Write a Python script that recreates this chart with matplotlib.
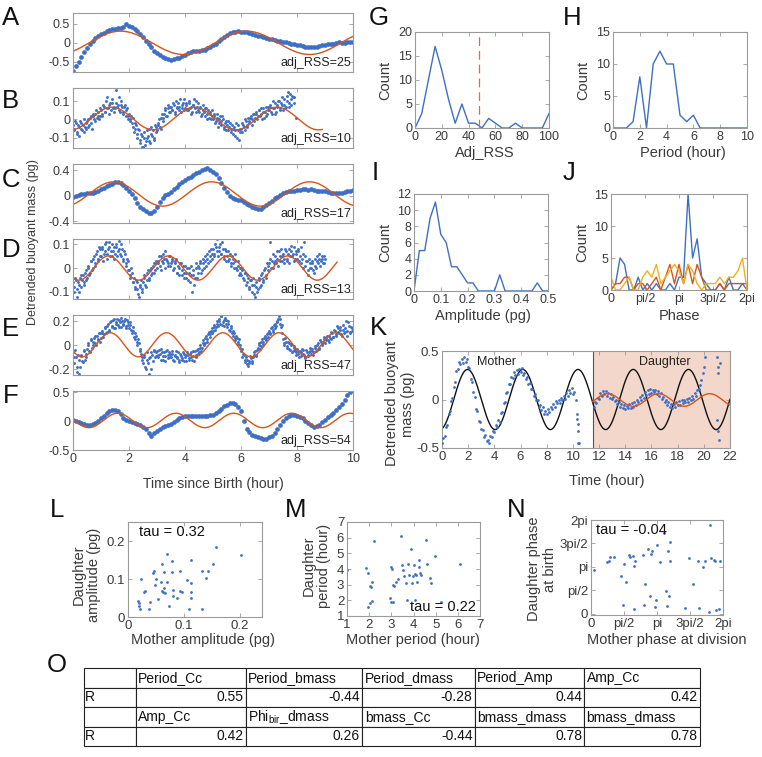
import numpy as np
import matplotlib
matplotlib.use('Agg')
import matplotlib.pyplot as plt
from matplotlib.table import Table

# ---------------- data ----------------
# panels A-F: detrended buoyant mass (pg)
A_dt = 0.1
A_y = [-0.75, -0.62, -0.5, -0.37, -0.24, -0.13, -0.03, 0.06, 0.13, 0.19,
       0.24, 0.27, 0.31, 0.34, 0.36, 0.38, 0.39, 0.4, 0.43, 0.5,
       0.46, 0.42, 0.37, 0.31, 0.24, 0.15, 0.06, -0.03, -0.12, -0.21,
       -0.28, -0.33, -0.37, -0.4, -0.43, -0.45, -0.42, -0.41, -0.39, -0.36,
       -0.32, -0.28, -0.25, -0.23, -0.22, -0.21, -0.2, -0.18, -0.15, -0.11,
       -0.07, -0.02, 0.04, 0.1, 0.16, 0.21, 0.25, 0.28, 0.3, 0.31,
       0.3, 0.29, 0.28, 0.26, 0.24, 0.21, 0.19, 0.17, 0.15, 0.13,
       0.11, 0.09, 0.08, 0.06, 0.04, 0.03, 0.02, -0.01, -0.03, -0.04,
       -0.05, -0.07, -0.09, -0.1, -0.1, -0.11, -0.12, -0.11, -0.09, -0.07,
       -0.05, -0.04, -0.03, -0.02, 0.0, 0.01, 0.0, -0.01, 0.01, 0.02, 0.02]

# noisy traces: two interleaved reads (second one offset by half a step)
B_dt = 0.05
B_y = [-0.03, -0.06, -0.02, -0.08, -0.04, -0.01, -0.05, -0.03, -0.07, -0.02,
       -0.01, -0.04, 0.01, -0.02, 0.02, 0.0, 0.03, 0.01, 0.04, 0.02,
       0.05, 0.03, 0.07, 0.04, 0.12, 0.06, 0.08, 0.05, 0.09, 0.07,
       0.06, 0.16, 0.08, 0.05, 0.1, 0.07, 0.04, 0.08, 0.05, 0.02,
       0.03, 0.0, -0.02, 0.01, -0.05, -0.03, -0.08, -0.06, -0.11, -0.09,
       -0.15, -0.07, -0.12, -0.1, -0.05, -0.13, -0.08, -0.06, -0.1, -0.04,
       -0.06, -0.02, -0.04, 0.01, -0.01, 0.03, 0.05, 0.02, 0.06, 0.04,
       0.07, 0.05, 0.08, 0.03, 0.06, 0.09, 0.07, 0.04, 0.08, 0.11,
       0.06, 0.08, 0.05, 0.09, 0.07, 0.04, 0.08, 0.06, 0.1, 0.05,
       0.04, 0.07, 0.03, 0.05, 0.02, 0.06, 0.03, 0.01, 0.04, 0.02,
       0.0, 0.03, -0.01, 0.01, -0.02, 0.02, -0.03, 0.0, -0.04, -0.01,
       -0.03, -0.06, -0.02, -0.05, -0.08, -0.04, -0.06, -0.1, -0.03, -0.07,
       -0.05, -0.02, -0.04, 0.0, -0.03, 0.01, -0.01, 0.02, 0.0, 0.03,
       0.01, 0.04, 0.02, 0.05, 0.03, 0.0, 0.06, 0.04, 0.02, 0.07,
       0.05, 0.08, 0.03, 0.06, 0.09, 0.04, 0.07, 0.1, 0.06, 0.08,
       0.05, 0.11, 0.07, 0.13, 0.09, 0.14, 0.08, 0.12, 0.12, 0.01]
B_y2 = [-0.05, -0.01, -0.07, -0.03, -0.09, -0.02, -0.06, 0.0, -0.04, -0.05,
        0.0, -0.03, 0.02, -0.05, 0.03, -0.01, 0.05, 0.02, 0.0, 0.06,
        0.02, 0.08, 0.04, 0.1, 0.06, 0.03, 0.09, 0.11, 0.06, 0.04,
        0.09, 0.07, 0.12, 0.04, 0.08, 0.03, 0.07, 0.02, 0.06, 0.0,
        -0.01, 0.02, -0.04, -0.07, -0.02, -0.1, -0.05, -0.13, -0.08, -0.15,
        -0.1, -0.14, -0.06, -0.09, -0.12, -0.04, -0.09, -0.11, -0.03, -0.07,
        -0.03, 0.0, -0.05, 0.03, 0.01, 0.06, 0.02, 0.08, 0.04, 0.07,
        0.05, 0.09, 0.04, 0.1, 0.07, 0.05, 0.11, 0.06, 0.09, 0.05,
        0.09, 0.05, 0.1, 0.06, 0.03, 0.08, 0.11, 0.04, 0.07, 0.09,
        0.06, 0.02, 0.08, 0.04, 0.06, 0.0, 0.05, 0.03, 0.0, 0.05,
        0.02, -0.02, 0.03, -0.04, 0.0, -0.01, 0.02, -0.05, -0.02, -0.06,
        -0.01, -0.04, -0.07, -0.03, -0.05, -0.09, -0.02, -0.06, -0.11, -0.05,
        -0.07, -0.03, -0.06, -0.01, -0.04, -0.02, 0.01, -0.03, 0.03, -0.01,
        0.03, 0.0, 0.05, 0.02, 0.06, 0.04, 0.01, 0.07, 0.03, 0.05,
        0.07, 0.04, 0.1, 0.06, 0.03, 0.08, 0.1, 0.05, 0.09, 0.12,
        0.08, 0.06, 0.1, 0.15, 0.07, 0.11, 0.13, 0.09]

C_dt = 0.1
C_y = [-0.01, 0.0, 0.02, 0.03, 0.03, 0.04, 0.05, 0.05, 0.06, 0.08,
       0.1, 0.12, 0.15, 0.17, 0.19, 0.21, 0.22, 0.2, 0.17, 0.13,
       0.08, 0.03, -0.04, -0.11, -0.17, -0.21, -0.24, -0.26, -0.27, -0.24,
       -0.18, -0.1, -0.03, 0.01, 0.03, 0.06, 0.1, 0.14, 0.18, 0.22,
       0.25, 0.28, 0.3, 0.33, 0.36, 0.38, 0.4, 0.42, 0.43, 0.41,
       0.38, 0.34, 0.28, 0.2, 0.13, 0.06, 0.0, -0.03, -0.05, -0.06,
       -0.07, -0.1, -0.13, -0.15, -0.17, -0.19, -0.21, -0.2, -0.17, -0.14,
       -0.11, -0.08, -0.04, -0.01, 0.02, 0.04, 0.06, 0.07, 0.08, 0.08,
       0.09, 0.09, 0.1, 0.1, 0.09, 0.1, 0.09, 0.08, 0.08, 0.07,
       0.07, 0.06, 0.05, 0.05, 0.04, 0.04, 0.05, 0.06, 0.07, 0.08, 0.09]

D_dt = 0.05
D_y = [-0.06, -0.1, -0.05, -0.12, -0.07, -0.04, -0.08, -0.03, -0.06, -0.01,
       -0.04, 0.01, -0.02, 0.03, 0.0, 0.05, 0.02, 0.07, 0.04, 0.08,
       0.05, 0.09, 0.06, 0.1, 0.04, 0.08, 0.11, 0.07, 0.05, 0.09,
       0.06, 0.1, 0.07, 0.115, 0.05, 0.08, 0.04, 0.06, 0.02, 0.03,
       -0.01, -0.04, -0.02, -0.06, -0.08, -0.05, -0.09, -0.12, -0.07, -0.1,
       -0.06, -0.04, -0.08, -0.02, -0.05, -0.01, -0.03, 0.01, -0.02, 0.02,
       0.0, 0.03, 0.01, 0.05, 0.02, 0.04, 0.07, 0.03, 0.01, 0.05,
       0.02, 0.04, 0.0, 0.03, -0.02, 0.01, -0.03, 0.02, -0.01, -0.04,
       0.01, -0.02, -0.05, 0.0, -0.03, -0.1, -0.01, -0.04, 0.02, -0.02,
       0.0, 0.03, -0.01, 0.02, 0.05, 0.01, 0.04, 0.07, 0.03, 0.06,
       0.08, 0.05, 0.09, 0.12, 0.07, 0.1, 0.06, 0.08, 0.04, 0.07,
       0.05, 0.03, 0.06, 0.02, 0.04, 0.0, 0.03, -0.01, 0.01, -0.02,
       -0.03, 0.0, -0.05, -0.02, -0.06, -0.04, -0.08, -0.05, -0.1, -0.07,
       -0.12, -0.06, -0.09, -0.04, -0.07, -0.02, -0.05, 0.0, -0.03, 0.01,
       0.02, 0.108, 0.03, 0.0, 0.05, 0.02, 0.04, 0.07, 0.03, 0.05,
       0.06, 0.02, 0.07, 0.04, 0.08, 0.05, 0.094, 0.06, 0.03, 0.07,
       0.04, 0.08, 0.05, 0.02, 0.06, 0.11, 0.01, 0.03, -0.01, 0.02,
       0.0, 0.03, -0.02, 0.01, 0.05, 0.02, 0.04, 0.03, 0.05, 0.02, 0.04]
D_y2 = [-0.08, -0.04, -0.09, -0.06, -0.1, -0.03, -0.05, -0.07, -0.02, -0.05,
        0.0, -0.03, 0.03, -0.01, 0.04, 0.01, 0.06, 0.03, 0.09, 0.05,
        0.08, 0.03, 0.07, 0.11, 0.06, 0.09, 0.05, 0.1, 0.07, 0.04,
        0.09, 0.05, 0.08, 0.06, 0.1, 0.03, 0.07, 0.01, 0.04, -0.01,
        -0.03, 0.0, -0.06, -0.04, -0.09, -0.06, -0.11, -0.08, -0.05, -0.09,
        -0.03, -0.07, -0.05, -0.01, -0.04, 0.0, -0.02, 0.02, -0.01, 0.03,
        0.02, 0.05, -0.01, 0.03, 0.06, 0.0, 0.04, 0.02, 0.05, 0.01,
        0.03, -0.01, 0.02, 0.04, -0.02, 0.0, 0.02, -0.03, 0.01, -0.02,
        -0.04, 0.0, -0.02, -0.06, 0.01, -0.03, -0.07, 0.0, -0.04, 0.01,
        0.02, -0.02, 0.04, 0.0, 0.03, 0.06, 0.02, 0.05, 0.08, 0.04,
        0.06, 0.1, 0.07, 0.05, 0.09, 0.06, 0.11, 0.05, 0.08, 0.03,
        0.07, 0.04, 0.01, 0.05, 0.02, 0.06, 0.0, 0.03, -0.03, 0.0,
        -0.01, -0.04, -0.02, -0.07, -0.03, -0.09, -0.05, -0.07, -0.04, -0.11,
        -0.08, -0.1, -0.05, -0.08, -0.03, -0.06, -0.01, -0.04, 0.02, -0.01,
        0.04, 0.0, 0.06, 0.02, 0.03, 0.07, 0.01, 0.05, 0.08, 0.03,
        0.04, 0.08, 0.03, 0.06, 0.02, 0.07, 0.05, 0.09, 0.04, 0.06,
        0.07, 0.03, 0.09, 0.04, 0.0, 0.05, 0.03, -0.03, 0.04, 0.0,
        0.02, -0.01, 0.04, 0.0, 0.03, 0.06, 0.01, 0.04, 0.02, 0.05]

E_dt = 0.05
E_y = [-0.06, -0.15, -0.1, -0.22, -0.12, -0.18, -0.08, -0.14, -0.05, -0.1,
       -0.03, 0.02, -0.06, 0.04, 0.0, 0.06, 0.02, 0.08, 0.04, 0.1,
       0.06, 0.12, 0.09, 0.15, 0.11, 0.18, 0.13, 0.2, 0.16, 0.22,
       0.14, 0.19, 0.17, 0.21, 0.15, 0.2, 0.18, 0.22, 0.16, 0.19,
       0.14, 0.17, 0.1, 0.12, 0.05, 0.08, 0.0, 0.02, -0.05, -0.1,
       -0.15, -0.08, -0.2, -0.12, -0.24, -0.1, -0.06, -0.13, -0.04, -0.09,
       -0.05, -0.1, -0.07, -0.03, -0.12, -0.06, -0.09, -0.04, -0.11, -0.07,
       -0.1, -0.05, -0.13, -0.08, -0.11, -0.06, -0.14, -0.09, -0.12, -0.07,
       -0.1, -0.13, -0.08, -0.11, -0.06, -0.12, -0.09, -0.05, -0.1, -0.03,
       -0.06, 0.0, -0.02, 0.04, 0.02, 0.08, 0.05, 0.11, 0.09, 0.14,
       0.12, 0.17, 0.15, 0.2, 0.22, 0.18, 0.24, 0.19, 0.16, 0.21,
       0.15, 0.18, 0.12, 0.14, 0.08, 0.1, 0.04, 0.06, 0.01, -0.02,
       -0.05, -0.1, -0.08, -0.14, -0.12, -0.17, -0.15, -0.11, -0.13, -0.08,
       -0.05, -0.09, -0.02, 0.02, -0.01, 0.05, 0.03, 0.08, 0.06, 0.1,
       0.12, 0.09, 0.15, 0.13, 0.18, 0.16, 0.2, 0.24, 0.22, 0.17,
       0.05, 0.0, 0.03, -0.02, 0.02, -0.04, 0.01, -0.05, -0.02, -0.06,
       -0.03, -0.07, -0.05, -0.09, -0.04, -0.08, -0.1, -0.06, -0.09, -0.05,
       -0.07, -0.03, -0.06, -0.01, -0.04, 0.02, -0.02, 0.03, 0.0, 0.05,
       0.02, 0.06, 0.04, 0.08, 0.05, 0.1, 0.07, 0.12, 0.09, 0.14,
       0.1, 0.15, 0.08, 0.13, 0.11, 0.2, 0.12, 0.16, 0.1, 0.14, 0.12]
E_y2 = [-0.1, -0.04, -0.18, -0.08, -0.24, -0.09, -0.13, -0.04, -0.12, -0.07,
        0.0, -0.05, 0.05, -0.02, 0.03, 0.08, 0.0, 0.05, 0.1, 0.03,
        0.1, 0.07, 0.14, 0.1, 0.16, 0.12, 0.19, 0.15, 0.21, 0.14,
        0.18, 0.22, 0.15, 0.19, 0.23, 0.17, 0.2, 0.14, 0.21, 0.17,
        0.19, 0.13, 0.15, 0.07, 0.1, 0.03, 0.05, -0.03, -0.07, -0.12,
        -0.1, -0.18, -0.06, -0.15, -0.11, -0.2, -0.08, -0.05, -0.1, -0.06,
        -0.08, -0.04, -0.12, -0.06, -0.09, -0.13, -0.05, -0.08, -0.06, -0.1,
        -0.07, -0.12, -0.09, -0.05, -0.1, -0.12, -0.07, -0.11, -0.06, -0.13,
        -0.08, -0.06, -0.12, -0.07, -0.1, -0.05, -0.13, -0.08, -0.04, -0.07,
        -0.02, -0.05, 0.02, 0.0, 0.06, 0.03, 0.09, 0.07, 0.12, 0.1,
        0.15, 0.13, 0.18, 0.16, 0.2, 0.24, 0.17, 0.21, 0.23, 0.18,
        0.2, 0.13, 0.16, 0.1, 0.12, 0.06, 0.08, 0.03, 0.05, 0.0,
        -0.03, -0.07, -0.12, -0.1, -0.16, -0.13, -0.09, -0.15, -0.1, -0.06,
        -0.08, -0.04, 0.0, -0.03, 0.03, 0.01, 0.06, 0.04, 0.09, 0.07,
        0.1, 0.14, 0.11, 0.17, 0.14, 0.19, 0.22, 0.18, 0.15, 0.1,
        0.02, 0.06, -0.01, 0.03, -0.03, 0.0, -0.06, -0.01, -0.04, -0.08,
        -0.05, -0.1, -0.06, -0.03, -0.07, -0.11, -0.04, -0.08, -0.06, -0.02,
        -0.05, -0.08, -0.02, -0.05, 0.0, -0.03, 0.04, 0.01, 0.03, 0.07,
        0.04, 0.08, 0.03, 0.06, 0.11, 0.07, 0.13, 0.08, 0.16, 0.11,
        0.13, 0.09, 0.17, 0.1, 0.14, 0.08, 0.19, 0.11, 0.15, 0.12]

F_dt = 0.1
F_y = [0.03, 0.01, -0.01, -0.03, -0.05, -0.06, -0.07, -0.05, -0.03, 0.01,
       0.06, 0.1, 0.14, 0.17, 0.19, 0.2, 0.18, 0.12, 0.06, 0.02,
       0.0, -0.02, -0.03, -0.04, -0.06, -0.1, -0.14, -0.2, -0.26, -0.2,
       -0.16, -0.13, -0.1, -0.08, -0.07, -0.04, -0.01, 0.03, 0.06, 0.08,
       0.09, 0.1, 0.1, 0.1, 0.1, 0.1, 0.1, 0.1, 0.1, 0.11,
       0.11, 0.14, 0.17, 0.22, 0.26, 0.29, 0.31, 0.31, 0.3, 0.25,
       0.17, 0.0, -0.14, -0.19, -0.23, -0.25, -0.27, -0.29, -0.3, -0.3,
       -0.28, -0.25, -0.2, -0.13, -0.06, 0.0, 0.06, 0.09, 0.11, 0.11,
       0.1, 0.08, 0.05, 0.01, -0.03, -0.07, -0.09, -0.08, -0.06, -0.02,
       0.03, 0.07, 0.11, 0.15, 0.2, 0.24, 0.3, 0.37, 0.45, 0.5, 0.55]

# sine fits: (amplitude, period h, time of peak h, offset, end time h)
A_fit = (0.31, 4.5, 1.7, 0.0, 10.0)
B_fit = (0.062, 2.95, 1.39, 0.005, 8.9)
C_fit = (0.19, 3.5, 1.45, 0.03, 10.0)
D_fit = (0.051, 2.13, 1.27, 0.0, 9.43)
E_fit = (0.1, 2.01, 1.33, 0.003, 10.0)
F_fit = (0.125, 2.07, 1.6, 0.015, 10.0)
adj_rss = [25, 10, 17, 13, 47, 54]
ylims = [(-0.78, 0.8), (-0.155, 0.17), (-0.43, 0.5), (-0.13, 0.12), (-0.245, 0.25), (-0.5, 0.53)]
yticks = [[-0.5, 0, 0.5], [-0.1, 0, 0.1], [-0.4, 0, 0.4], [-0.1, 0, 0.1], [-0.2, 0, 0.2], [-0.5, 0, 0.5]]

# histograms G-J
G_x = np.linspace(0, 100, 21)
G_count = [0, 3, 10, 17, 12, 6, 1, 5, 1, 1, 0, 2, 1, 0, 0, 1, 0, 0, 0, 0, 3]
G_cut = 48
H_x = np.linspace(0, 10, 21)
H_count = [0, 0, 0, 1, 8, 0, 10, 12, 10, 10, 2, 1, 2, 0, 0, 0, 0, 0, 0, 0, 0]
I_x = np.linspace(0, 0.5, 26)
I_count = [0, 5, 5, 9, 11, 7, 6, 3, 3, 2, 1, 1, 0, 0, 0, 0, 2, 0, 0, 0, 0, 0, 0, 1, 0, 0]
J_x = np.linspace(0, 2 * np.pi, 31)
J_blue = [0, 1, 5, 4, 0, 0, 2, 0, 1, 0, 1, 0, 0, 1, 0, 2, 2, 15, 5, 8, 2, 1, 0, 0, 1, 0, 2, 0, 0, 1, 0]
J_red = [0, 1, 1, 2, 2, 0, 1, 1, 0, 1, 2, 0, 2, 4, 1, 4, 1, 4, 1, 4, 2, 0, 0, 0, 1, 0, 1, 1, 1, 1, 1]
J_yellow = [2, 0, 0, 1, 2, 0, 0, 2, 3, 2, 4, 1, 2, 3, 4, 3, 1, 4, 3, 1, 0, 1, 1, 1, 2, 1, 2, 2, 3, 5, 0]

# K: mother (from t=0) and daughter (from t=11.6), 0.1 h steps
K_dt = 0.1
K_mother = [-0.45, -0.4, -0.38, -0.28, -0.26, -0.15, -0.12, -0.02, 0.02, 0.13,
            0.18, 0.29, 0.31, 0.39, 0.37, 0.42, 0.38, 0.44, 0.39, 0.42,
            0.34, 0.32, 0.21, 0.18, 0.08, 0.03, -0.1, -0.12, -0.22, -0.23,
            -0.3, -0.31, -0.39, -0.37, -0.43, -0.42, -0.45, -0.38, -0.39, -0.32,
            -0.33, -0.26, -0.28, -0.21, -0.23, -0.14, -0.13, -0.04, -0.03, 0.07,
            0.08, 0.16, 0.16, 0.23, 0.22, 0.28, 0.25, 0.3, 0.26, 0.31,
            0.28, 0.32, 0.25, 0.27, 0.21, 0.23, 0.16, 0.17, 0.11, 0.11,
            0.04, 0.06, -0.01, -0.01, -0.08, -0.06, -0.11, -0.08, -0.15, -0.12,
            -0.15, -0.1, -0.13, -0.08, -0.1, -0.05, -0.08, -0.02, -0.04, 0.0,
            -0.04, 0.02, -0.01, 0.04, 0.01, 0.07, 0.04, 0.1, 0.07, 0.12,
            0.06, 0.08, -0.01, -0.2, -0.45]
K_daughter_t0 = 11.6
K_daughter = [-0.08, -0.03, -0.04, 0.02, 0.01, 0.07, 0.04, 0.09, 0.06, 0.09,
              0.04, 0.07, 0.02, 0.06, 0.01, 0.03, -0.02, 0.0, -0.05, -0.03,
              -0.08, -0.05, -0.09, -0.06, -0.1, -0.07, -0.09, -0.05, -0.09, -0.04,
              -0.08, -0.03, -0.06, 0.0, -0.03, 0.03, 0.0, 0.05, 0.02, 0.08,
              0.05, 0.1, 0.06, 0.11, 0.07, 0.1, 0.08, 0.1, 0.06, 0.09,
              0.04, 0.07, 0.01, 0.03, -0.03, -0.01, -0.06, -0.03, -0.08, -0.05,
              -0.09, -0.05, -0.08, -0.03, -0.06, -0.02, -0.06, -0.01, -0.04, 0.0,
              -0.03, 0.01, -0.03, 0.02, -0.01, 0.04, 0.01, 0.07, 0.04, 0.1,
              0.11, 0.15, 0.2, 0.27, 0.34, 0.44, 0.54]
K_extra_t = [10.35, 10.4, 10.42, 10.45, 21.0, 21.05, 21.1, 21.0, 21.1, 21.15, 21.2]
K_extra_y = [-0.15, -0.25, -0.32, -0.45, 0.44, 0.34, 0.27, -0.21, -0.32, -0.42, 0.38]
K_birth = 11.5
K_mother_fit = (0.31, 4.22, 1.95, 0.0, 22.0)
K_daughter_fit = (0.065, 3.9, 12.65, -0.005, 22.0)

# L-N: mother vs daughter
L_mother = [0.018, 0.019, 0.02, 0.021, 0.024, 0.029, 0.031, 0.038, 0.04, 0.045, 0.047, 0.048,
            0.051, 0.054, 0.059, 0.061, 0.061, 0.063, 0.064, 0.064, 0.066, 0.069, 0.069, 0.073,
            0.078, 0.079, 0.081, 0.081, 0.088, 0.093, 0.094, 0.097, 0.106, 0.109, 0.112, 0.112,
            0.113, 0.113, 0.133, 0.133, 0.14, 0.143, 0.153, 0.157, 0.203]
L_daughter = [0.043, 0.036, 0.029, 0.02, 0.1, 0.065, 0.069, 0.02, 0.04, 0.117, 0.12, 0.083,
              0.1, 0.047, 0.091, 0.14, 0.068, 0.067, 0.118, 0.077, 0.062, 0.166, 0.093, 0.029,
              0.118, 0.148, 0.071, 0.055, 0.049, 0.068, 0.122, 0.067, 0.098, 0.02, 0.151, 0.089,
              0.067, 0.049, 0.02, 0.12, 0.102, 0.12, 0.14, 0.184, 0.163]
M_mother = [1.0, 2.21, 1.86, 1.93, 2.04, 2.1, 2.15, 1.93, 2.04, 2.15, 2.92, 2.99, 3.07, 2.99,
            3.03, 3.07, 3.14, 3.21, 3.3, 3.43, 3.47, 3.52, 3.58, 3.65, 3.69, 3.74, 3.8, 3.87,
            3.91, 3.96, 4.02, 4.09, 4.09, 4.13, 4.18, 4.25, 4.25, 4.31, 4.35, 4.58, 4.62, 4.75,
            4.8, 4.97, 5.24, 6.08]
M_daughter = [3.92, 5.79, 4.09, 3.76, 2.94, 2.86, 3.2, 1.6, 1.86, 1.95, 2.12, 1.9, 1.9, 4.13,
              4.02, 2.99, 2.94, 3.2, 3.33, 6.08, 4.24, 3.92, 3.55, 3.12, 2.04, 4.35, 3.63, 5.28,
              3.12, 3.55, 4.24, 2.04, 3.7, 3.59, 3.16, 4.13, 4.56, 3.76, 3.63, 5.86, 4.3, 3.42,
              3.1, 4.84, 1.91, 4.3]
N_mother = [0.13, 0.76, 0.84, 0.92, 1.11, 1.43, 1.51, 1.59, 1.67, 1.79, 1.87, 1.98, 2.03, 2.06,
            2.08, 2.46, 2.51, 2.59, 2.7, 2.79, 2.86, 2.9, 3.06, 3.11, 3.14, 3.3, 3.46, 3.57,
            3.62, 3.67, 3.7, 3.75, 3.75, 4.49, 4.68, 4.84, 5.1, 5.13, 5.33, 5.41, 5.6, 5.68,
            5.71, 5.84, 5.92, 5.97, 6.08, 6.13]
N_daughter = [2.94, 3.45, 3.56, 3.83, 3.83, 2.52, 0.56, 3.3, 2.12, 3.9, 3.83, 3.85, 3.16, 0.33,
              3.56, 3.96, 0.56, 2.0, 4.34, 1.16, 4.01, 4.23, 0.45, 0.94, 4.61, 3.45, 5.43, 1.51,
              0.49, 4.19, 1.16, 4.83, 3.5, 0.38, 3.74, 2.0, 3.56, 0.38, 3.12, 3.5, 0.11, 5.95,
              3.72, 3.61, 3.5, 0.22, 0.33, 3.56]
tau_L, tau_M, tau_N = 0.32, 0.22, -0.04

# O: correlation table
tab_head1 = ['', 'Period_Cc', 'Period_bmass', 'Period_dmass', 'Period_Amp', 'Amp_Cc']
tab_r1 = ['R', '0.55', '-0.44', '-0.28', '0.44', '0.42']
tab_head2 = ['', 'Amp_Cc', r'Phi$_{\mathregular{bir}}$_dmass', 'bmass_Cc', 'bmass_dmass', 'bmass_dmass']
tab_r2 = ['R', '0.42', '0.26', '-0.44', '0.78', '0.78']

# ---------------- drawing ----------------
W, H = 762, 757
BLUE = '#3f6fc4'
RED = '#d95319'
YEL = '#edb120'
SPINE = '#9a9a9a'
TXT = '#3a3a3a'

plt.rcParams['font.family'] = ['Liberation Sans', 'DejaVu Sans']
plt.rcParams['mathtext.default'] = 'regular'

fig = plt.figure(figsize=(W / 100, H / 100), dpi=100)


def add_ax(l, t, r, b):
    ax = fig.add_axes([l / W, 1 - b / H, (r - l) / W, (b - t) / H])
    ax.tick_params(direction='in', top=True, right=True, length=3, width=0.6,
                   colors=SPINE, labelcolor=TXT, labelsize=9, pad=2)
    for s in ax.spines.values():
        s.set_color(SPINE)
        s.set_linewidth(0.8)
    return ax


def ftext(x, y, s, **kw):
    kw.setdefault('color', TXT)
    return fig.text(x / W, 1 - y / H, s, **kw)


def sine(p, t):
    amp, period, peak, off = p[:4]
    return off + amp * np.cos(2 * np.pi * (t - peak) / period)


# A-F
traces = [(A_y, None, A_dt, A_fit), (B_y, B_y2, B_dt, B_fit), (C_y, None, C_dt, C_fit),
          (D_y, D_y2, D_dt, D_fit), (E_y, E_y2, E_dt, E_fit), (F_y, None, F_dt, F_fit)]
for i, (ys, ys2, dt, fit) in enumerate(traces):
    top = 12.7 + 75.6 * i
    ax = add_ax(73, top, 353, top + 59.5)
    t = np.arange(len(ys)) * dt
    ms = 3.4 if ys2 is None else 2.1
    ax.plot(t, ys, 'o', ms=ms, mew=0, color=BLUE)
    if ys2 is not None:
        ax.plot(dt / 2 + np.arange(len(ys2)) * dt, ys2, 'o', ms=ms, mew=0, color=BLUE)
    tf = np.linspace(0, fit[4], 300)
    ax.plot(tf, sine(fit, tf), color=RED, lw=1.0)
    ax.set_xlim(0, 10)
    ax.set_ylim(*ylims[i])
    ax.set_xticks(range(0, 11, 2))
    ax.set_yticks(yticks[i])
    ax.set_yticklabels([('%g' % v) for v in yticks[i]])
    if i < 5:
        ax.set_xticklabels([])
    ax.text(0.995, 0.05, 'adj_RSS=%d' % adj_rss[i], transform=ax.transAxes,
            ha='right', va='bottom', fontsize=9, color='#222222')

ftext(33, 242, 'Detrended buoyant mass (pg)', rotation=90, ha='center', va='center', fontsize=9)
ftext(213, 477, 'Time since Birth (hour)', ha='center', va='top', fontsize=10)

# G
ax = add_ax(415, 32, 549, 128)
ax.plot(G_x, G_count, color=BLUE, lw=1.0)
ax.axvline(G_cut, color='#e36c3c', lw=0.9, ls=(0, (7, 4)))
ax.set_xlim(0, 100)
ax.set_ylim(0, 20)
ax.set_xticks(range(0, 101, 20))
ax.set_yticks(range(0, 21, 5))
# H
ax = add_ax(613, 32, 747, 128)
ax.plot(H_x, H_count, color=BLUE, lw=1.0)
ax.set_xlim(0, 10)
ax.set_ylim(0, 15)
ax.set_xticks(range(0, 11, 2))
ax.set_yticks(range(0, 16, 5))
# I
ax = add_ax(414, 194, 548, 291)
ax.plot(I_x, I_count, color=BLUE, lw=1.0)
ax.set_xlim(0, 0.5)
ax.set_ylim(0, 12)
ax.set_xticks([0, 0.1, 0.2, 0.3, 0.4, 0.5])
ax.set_xticklabels(['0', '0.1', '0.2', '0.3', '0.4', '0.5'])
ax.set_yticks(range(0, 13, 2))
# J
ax = add_ax(611, 194, 747, 290)
ax.plot(J_x, J_blue, color=BLUE, lw=1.0)
ax.plot(J_x, J_red, color=RED, lw=1.0)
ax.plot(J_x, J_yellow, color=YEL, lw=1.0)
ax.set_xlim(0, 2 * np.pi)
ax.set_ylim(0, 15)
ax.set_xticks(np.arange(5) * np.pi / 2)
ax.set_xticklabels(['0', 'pi/2', 'pi', '3pi/2', '2pi'])
ax.set_yticks(range(0, 16, 5))

for x, y in [(385, 80), (583, 80), (385, 242), (582, 242)]:
    ftext(x, y, 'Count', rotation=90, ha='center', va='center', fontsize=10.5)
ftext(485, 146, 'Adj_RSS', ha='center', va='top', fontsize=10.5)
ftext(683, 146, 'Period (hour)', ha='center', va='top', fontsize=10.5)
ftext(483, 309, 'Amplitude (pg)', ha='center', va='top', fontsize=10.5)
ftext(680, 309, 'Phase', ha='center', va='top', fontsize=10.5)

# K
ax = add_ax(442, 351, 730, 448)
ax.axvspan(K_birth, 22, facecolor='#f3d7cb', edgecolor='none', zorder=0)
ax.axvline(K_birth, color='#555555', lw=0.8, zorder=1)
tk = np.linspace(0, K_mother_fit[4], 500)
ax.plot(tk, sine(K_mother_fit, tk), color='#111111', lw=1.0, zorder=2)
ax.plot(np.arange(len(K_mother)) * K_dt, K_mother, 'o', ms=2.0, mew=0, color=BLUE, zorder=3)
ax.plot(K_daughter_t0 + np.arange(len(K_daughter)) * K_dt, K_daughter, 'o', ms=2.0, mew=0,
        color=BLUE, zorder=3)
ax.plot(K_extra_t, K_extra_y, 'o', ms=2.0, mew=0, color=BLUE, zorder=3)
td = np.linspace(K_birth, K_daughter_fit[4], 300)
ax.plot(td, sine(K_daughter_fit, td), color=RED, lw=1.0, zorder=4)
ax.set_xlim(0, 22)
ax.set_ylim(-0.5, 0.5)
ax.set_xticks(range(0, 23, 2))
ax.set_yticks([-0.5, 0, 0.5])
ax.set_yticklabels(['-0.5', '0', '0.5'])
ax.tick_params(labelsize=9.5)
ax.text(4.2, 0.39, 'Mother', ha='center', va='center', fontsize=9, color='#222222')
ax.text(17.0, 0.39, 'Daughter', ha='center', va='center', fontsize=9, color='#222222')
ftext(400, 404, 'Detrended buoyant\nmass (pg)', rotation=90, ha='center', va='center',
      fontsize=10.5, linespacing=1.1)
ftext(607, 474, 'Time (hour)', ha='center', va='top', fontsize=10.5)

# L
ax = add_ax(128, 522, 262, 617)
ax.plot(L_mother, L_daughter, 'o', ms=2.0, mew=0, color=BLUE)
ax.set_xlim(0, 0.24)
ax.set_ylim(0, 0.25)
ax.set_xticks([0, 0.1, 0.2])
ax.set_xticklabels(['0', '0.1', '0.2'])
ax.set_yticks([0, 0.1, 0.2])
ax.set_yticklabels(['0', '0.1', '0.2'])
ax.tick_params(labelsize=9.5)
ax.text(0.085, 0.89, 'tau = %.2f' % tau_L, transform=ax.transAxes, ha='left', va='center',
        fontsize=10.5, color='#111111')
ftext(86, 575, 'Daughter\namplitude (pg)', rotation=90, ha='center', va='center',
      fontsize=10.5, linespacing=1.1)
ftext(203, 633, 'Mother amplitude (pg)', ha='center', va='top', fontsize=10.5)

# M
ax = add_ax(347, 522, 480, 616)
ax.plot(M_mother, M_daughter, 'o', ms=2.0, mew=0, color=BLUE)
ax.set_xlim(1, 7)
ax.set_ylim(1, 7)
ax.set_xticks(range(1, 8))
ax.set_yticks(range(1, 8))
ax.tick_params(labelsize=9.5)
ax.text(0.97, 0.1, 'tau = %.2f' % tau_M, transform=ax.transAxes, ha='right', va='center',
        fontsize=10.5, color='#111111')
ftext(316, 566, 'Daughter\nperiod (hour)', rotation=90, ha='center', va='center',
      fontsize=10.5, linespacing=1.1)
ftext(413, 633, 'Mother period (hour)', ha='center', va='top', fontsize=10.5)

# N
ax = add_ax(591, 520, 723, 615)
ax.plot(N_mother, N_daughter, 'o', ms=2.0, mew=0, color=BLUE)
ax.set_xlim(0, 2 * np.pi)
ax.set_ylim(-0.1, 2 * np.pi)
phase_ticks = np.arange(5) * np.pi / 2
phase_lbl = ['0', 'pi/2', 'pi', '3pi/2', '2pi']
ax.set_xticks(phase_ticks)
ax.set_xticklabels(phase_lbl)
ax.set_yticks(phase_ticks)
ax.set_yticklabels(phase_lbl)
ax.tick_params(labelsize=9.5)
ax.text(0.04, 0.9, 'tau = %.2f' % tau_N, transform=ax.transAxes, ha='left', va='center',
        fontsize=10.5, color='#111111')
ftext(542, 569, 'Daughter phase\nat birth', rotation=90, ha='center', va='center',
      fontsize=10.5, linespacing=1.1)
ftext(667, 633, 'Mother phase at division', ha='center', va='top', fontsize=10.5)

# O table
axO = fig.add_axes([84 / W, 1 - 746 / H, (700 - 84) / W, (746 - 668) / H])
axO.axis('off')
col_w = np.array([52.7, 111.9, 118.9, 114.4, 111.4, 117.9])
col_w = col_w / col_w.sum()
tb = Table(axO, bbox=[0, 0, 1, 1])
for r, row in enumerate([tab_head1, tab_r1, tab_head2, tab_r2]):
    for c, txt in enumerate(row):
        loc = 'right' if (r in (1, 3) and c > 0) else 'left'
        cell = tb.add_cell(r, c, width=col_w[c], height=0.25, text=txt, loc=loc,
                           facecolor='white', edgecolor='#222222')
        cell.PAD = 0.02
        cell.set_linewidth(0.8)
        cell.get_text().set_fontsize(10)
        cell.get_text().set_family(['Liberation Sans Narrow', 'Liberation Sans'])
        cell.get_text().set_color('#111111')
tb.auto_set_font_size(False)
axO.add_table(tb)

# panel letters
letters = [('A', 2, 25), ('B', 2, 108), ('C', 2, 187), ('D', 2, 257), ('E', 2, 336), ('F', 3, 403),
           ('G', 369, 25), ('H', 563, 25), ('I', 372, 180), ('J', 563, 180), ('K', 370, 335),
           ('L', 50, 517), ('M', 285, 517), ('N', 507, 517), ('O', 47, 672)]
for s, x, y in letters:
    ftext(x, y, s, fontsize=18.5, ha='left', va='baseline', color='#111111')

fig.savefig('out.png', dpi=100)
